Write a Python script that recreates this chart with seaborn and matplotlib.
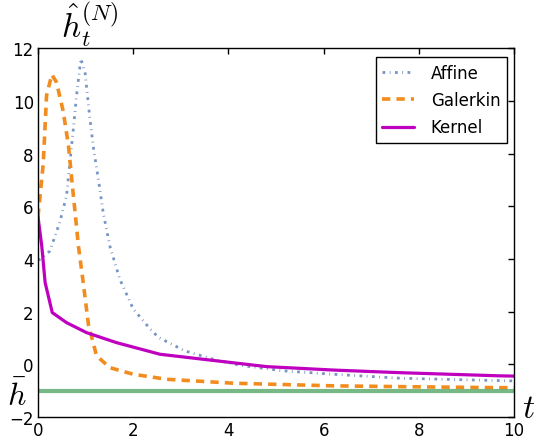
import numpy as np
import pandas as pd
import matplotlib
matplotlib.use("Agg")
import matplotlib.pyplot as plt
import seaborn as sns

# values
affine_t = [0.0, 0.06, 0.25, 0.46, 0.6, 0.67, 0.74, 0.81, 0.9, 0.99, 1.08, 1.16, 1.27,
            1.37, 1.51, 1.72, 2.0, 2.35, 2.53, 3.08, 3.68, 4.24, 5.15, 6.2, 7.6, 9.9, 10.0]
affine_h = [3.95, 4.0, 4.3, 5.4, 6.4, 7.65, 8.9, 10.2, 11.6, 11.05, 9.5, 8.27, 7.0,
            5.75, 4.48, 3.22, 2.1, 1.35, 1.02, 0.51, 0.19, -0.04, -0.25, -0.38, -0.53, -0.63, -0.63]

galerkin_t = [0.0, 0.11, 0.18, 0.29, 0.39, 0.53, 0.64, 0.71, 0.78, 0.85, 0.95, 1.06,
              1.23, 1.51, 2.0, 2.7, 4.1, 6.2, 7.6, 9.7, 10.0]
galerkin_h = [5.6, 7.6, 10.2, 11.0, 10.7, 9.6, 8.3, 7.0, 5.75, 4.48, 3.1, 1.5,
              0.32, -0.13, -0.38, -0.57, -0.72, -0.82, -0.85, -0.89, -0.89]

kernel_t = [0.0, 0.08, 0.15, 0.3, 0.6, 1.02, 1.65, 2.56, 3.75, 4.8, 6.2, 7.6, 9.7, 10.0]
kernel_h = [5.6, 4.48, 3.1, 1.96, 1.58, 1.2, 0.82, 0.38, 0.13, -0.09, -0.22, -0.32, -0.44, -0.45]

h_bar = -1.0

sns.set_theme(style="white", rc={"text.color": "black", "xtick.color": "black",
                                 "ytick.color": "black", "axes.labelcolor": "black"})
plt.rcParams["mathtext.fontset"] = "cm"
plt.rcParams["xtick.direction"] = "in"
plt.rcParams["ytick.direction"] = "in"

fig = plt.figure(figsize=(5.35, 4.39), dpi=100)
ax = fig.add_axes([0.071, 0.048, 0.890, 0.840])

sns.lineplot(x=affine_t, y=affine_h, ax=ax, color="#4C72B0", alpha=0.75, lw=2,
             label="Affine")
ax.lines[-1].set_dashes((1, 1.6, 0.3, 1.6))
sns.lineplot(x=galerkin_t, y=galerkin_h, ax=ax, color="#F28C1E", lw=2.6,
             label="Galerkin")
ax.lines[-1].set_dashes((2.3, 1.7))
sns.lineplot(x=kernel_t, y=kernel_h, ax=ax, color="#BF00BF", lw=2.3, label="Kernel")
ax.axhline(h_bar, color="#55A868", alpha=0.8, lw=3)

ax.set_xlim(0, 10)
ax.set_ylim(-2, 12)
ax.set_xticks([0, 2, 4, 6, 8, 10])
ax.set_yticks([-2, 0, 2, 4, 6, 8, 10, 12])
ax.tick_params(axis="both", labelsize=12, length=4, width=1, color="black",
               labelcolor="black", top=True, right=True, pad=3)
for s in ax.spines.values():
    s.set_color("black")
    s.set_linewidth(1)

leg = ax.legend(loc="upper right", fontsize=12, frameon=True, fancybox=False,
                borderpad=0.4, labelspacing=0.55, handlelength=1.9, handletextpad=1.0,
                borderaxespad=0, bbox_to_anchor=(0.985, 0.975))
leg.get_frame().set_edgecolor("black")
leg.get_frame().set_linewidth(1)
leg.get_frame().set_alpha(1)

fig.text(0.168, 0.945, r"$\hat{h}_t^{(N)}$", fontsize=24, ha="center", va="center")
fig.text(0.032, 0.095, r"$\bar{h}$", fontsize=23, ha="center", va="center")
fig.text(1.0, 0.07, r"$t$", fontsize=24, ha="right", va="center")

fig.savefig("out.png", dpi=100)
